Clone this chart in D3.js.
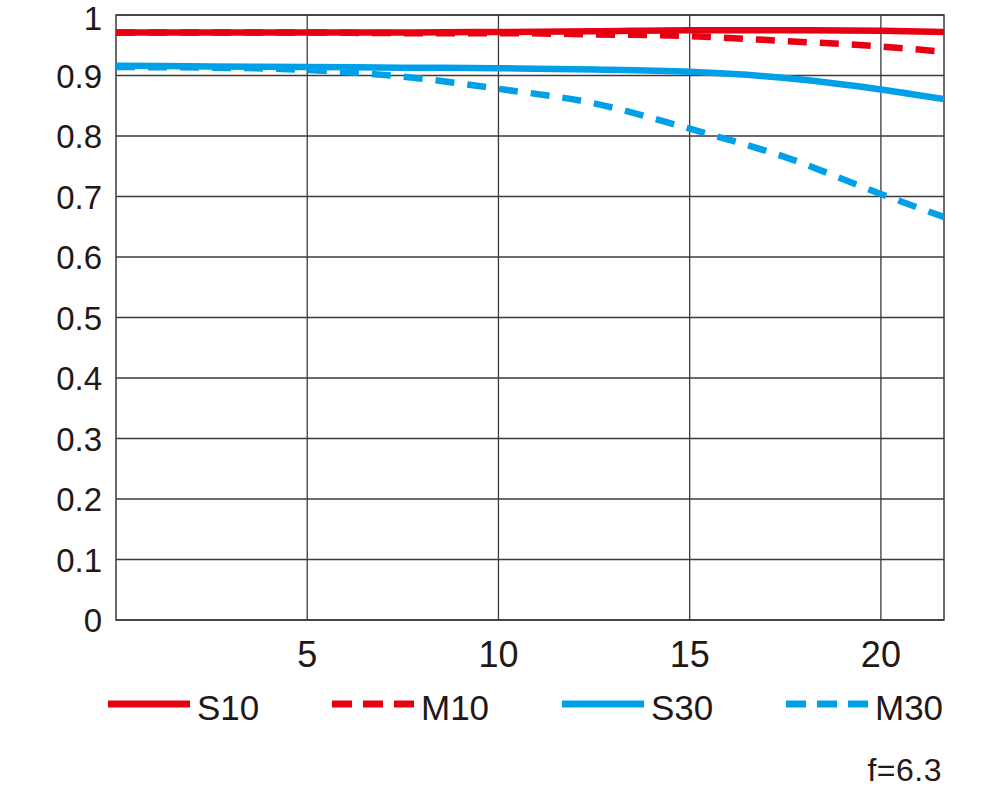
<!DOCTYPE html>
<html>
<head>
<meta charset="utf-8">
<script src="https://cdn.jsdelivr.net/npm/d3@7/dist/d3.min.js"></script>
<style>
  html, body { margin: 0; padding: 0; background: #fff; }
  svg { display: block; }
  text { font-family: "Liberation Sans", Arial, sans-serif; fill: #231815; }
</style>
</head>
<body>
<svg id="chart" width="1000" height="789"></svg>
<script>
// ---- data ----
const xPoints = [0, 2.5, 5, 7.5, 10, 12.5, 15, 17.5, 20, 21.65];
const s10 = [0.971, 0.971, 0.971, 0.971, 0.972, 0.973, 0.975, 0.975, 0.974, 0.972];
const m10 = [0.971, 0.971, 0.971, 0.970, 0.970, 0.968, 0.965, 0.957, 0.948, 0.939];
const s30 = [0.916, 0.915, 0.914, 0.913, 0.912, 0.910, 0.906, 0.896, 0.877, 0.861];
const m30 = [0.914, 0.913, 0.909, 0.898, 0.878, 0.854, 0.812, 0.765, 0.704, 0.666];
const xTicks = [5, 10, 15, 20];
const yTicks = [0, 0.1, 0.2, 0.3, 0.4, 0.5, 0.6, 0.7, 0.8, 0.9, 1];
const seriesNames = ["S10", "M10", "S30", "M30"];
const seriesColors = ["#e60012", "#e60012", "#00a0e9", "#00a0e9"];
const seriesDashed = [false, true, false, true];
const apertureLabel = "f=6.3";

// ---- layout ----
const L = 116, R = 944, T = 15, B = 620;
const svg = d3.select("#chart");
const x = d3.scaleLinear().domain([0, 21.65]).range([L, R]);
const y = d3.scaleLinear().domain([0, 1]).range([B, T]);
const gridColor = "#3e3a39";

// grid
const grid = svg.append("g");
grid.selectAll("line.h").data(yTicks).enter().append("line")
  .attr("x1", L).attr("x2", R)
  .attr("y1", d => y(d)).attr("y2", d => y(d))
  .attr("stroke", gridColor).attr("stroke-width", 1.3);
grid.selectAll("line.v").data(xTicks).enter().append("line")
  .attr("x1", d => x(d)).attr("x2", d => x(d))
  .attr("y1", T).attr("y2", B)
  .attr("stroke", gridColor).attr("stroke-width", 1.3);
grid.append("rect").attr("x", L).attr("y", T).attr("width", R - L).attr("height", B - T)
  .attr("fill", "none").attr("stroke", gridColor).attr("stroke-width", 1.5);

// y tick labels
svg.append("g").selectAll("text").data(yTicks).enter().append("text")
  .attr("x", 102).attr("y", d => Math.max(y(d) + 12, 30))
  .attr("text-anchor", "end").attr("font-size", 33)
  .text(d => d === 0 ? "0" : d === 1 ? "1" : d3.format(".1f")(d));

// x tick labels
svg.append("g").selectAll("text").data(xTicks).enter().append("text")
  .attr("x", d => x(d)).attr("y", 667)
  .attr("text-anchor", "middle").attr("font-size", 36)
  .text(d => d);

// lines
const series = [s10, m10, s30, m30];
const line = d3.line().x(d => x(d[0])).y(d => y(d[1])).curve(d3.curveMonotoneX);
svg.append("clipPath").attr("id", "clip").append("rect")
  .attr("x", L).attr("y", T - 10).attr("width", R - L).attr("height", B - T + 20);
const lg = svg.append("g").attr("clip-path", "url(#clip)");
series.forEach((vals, i) => {
  lg.append("path")
    .datum(xPoints.map((xv, j) => [xv, vals[j]]))
    .attr("d", line)
    .attr("fill", "none")
    .attr("stroke", seriesColors[i])
    .attr("stroke-width", 6.5)
    .attr("stroke-dasharray", seriesDashed[i] ? "19,13" : null);
});

// legend
const legX = [108, 332, 562, 786];
const legY = 704;
seriesNames.forEach((name, i) => {
  const g = svg.append("g");
  g.append("line")
    .attr("x1", legX[i]).attr("x2", legX[i] + 82)
    .attr("y1", legY).attr("y2", legY)
    .attr("stroke", seriesColors[i]).attr("stroke-width", 7)
    .attr("stroke-dasharray", seriesDashed[i] ? "20,11" : null);
  g.append("text")
    .attr("x", legX[i] + 89).attr("y", legY + 16)
    .attr("font-size", 35)
    .text(name);
});

// aperture label
svg.append("text")
  .attr("x", 942).attr("y", 781)
  .attr("text-anchor", "end").attr("font-size", 32)
  .attr("letter-spacing", 0.5)
  .text(apertureLabel);
</script>
</body>
</html>
